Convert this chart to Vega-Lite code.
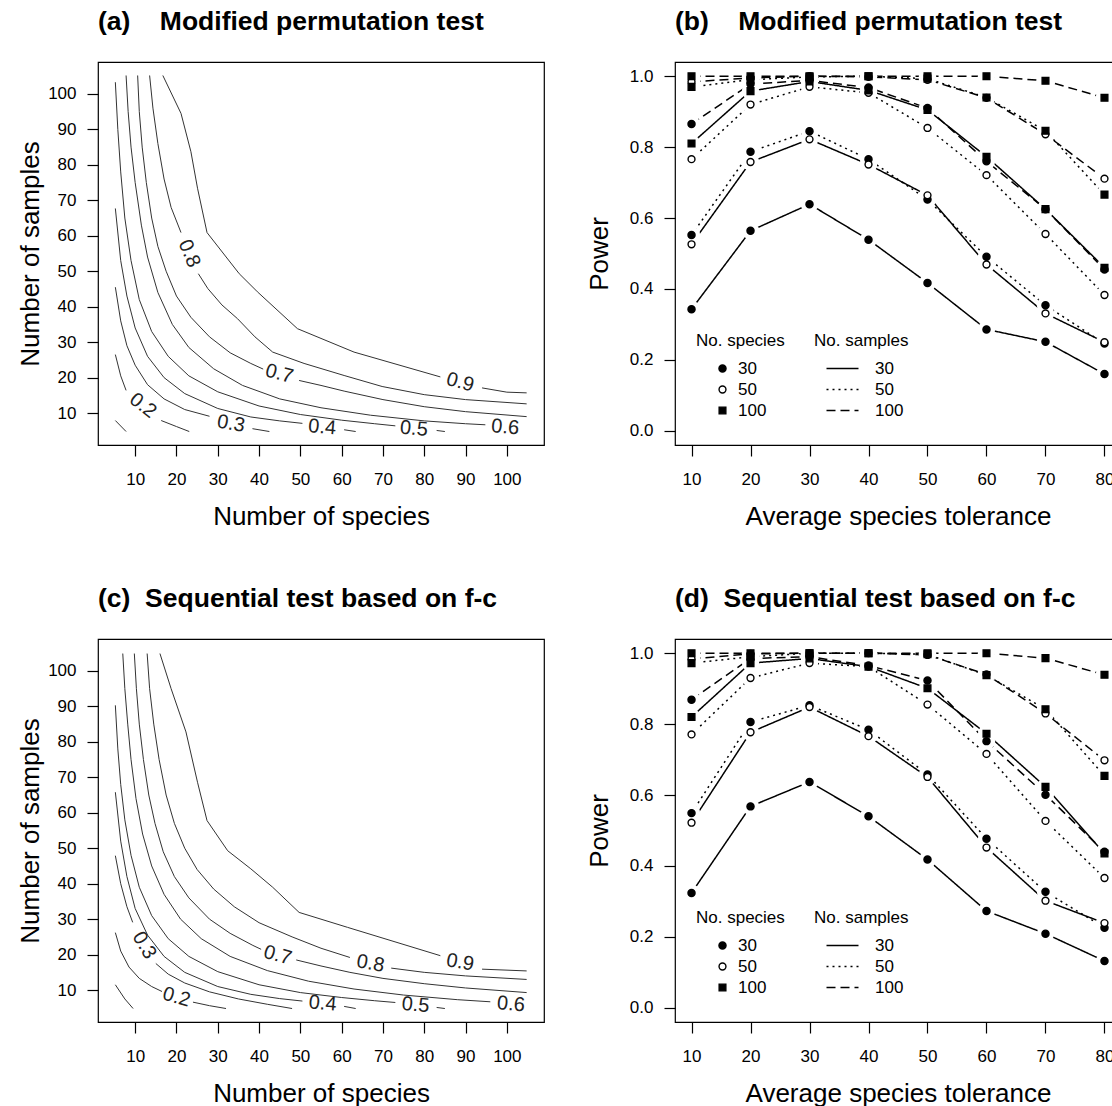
{
"$schema": "https://vega.github.io/schema/vega-lite/v6.json",
"padding": {"left": 16, "top": 7, "right": 0, "bottom": 0},
"config": {
  "font": "Liberation Sans",
  "view": {"stroke": "black", "strokeWidth": 1.2},
  "axis": {"domain": false, "grid": false, "tickColor": "black", "tickWidth": 1.2, "tickSize": 11, "labelFont": "Liberation Sans", "labelFontSize": 17, "labelColor": "black", "labelFlush": false, "labelOverlap": false, "titleFont": "Liberation Sans", "titleFontSize": 26, "titleFontWeight": "normal", "titleColor": "black"},
  "axisX": {"labelPadding": 15, "titleY": 79, "titleBaseline": "alphabetic"},
  "axisY": {"labelPadding": 11, "titleX": -68, "titleBaseline": "middle"},
  "title": {"anchor": "start", "frame": "group", "fontSize": 26.5, "fontWeight": "bold", "font": "Liberation Sans", "color": "black", "offset": 27, "baseline": "alphabetic"},
  "text": {"font": "Liberation Sans", "fontSize": 20, "color": "#222", "align": "center", "baseline": "middle"},
  "legend": {"orient": "none", "padding": 0, "titleFont": "Liberation Sans", "titleFontSize": 17, "titleFontWeight": "normal", "titleColor": "black", "labelFont": "Liberation Sans", "labelFontSize": 17, "labelColor": "black", "rowPadding": 3, "titlePadding": 10}
},
"datasets": {
  "contA": [
    {"seg":"0.1","species":5.2,"samples":7.9},{"seg":"0.1","species":7.8,"samples":4.8},
    {"seg":"0.2a","species":5.2,"samples":26.5},{"seg":"0.2a","species":6.5,"samples":20.5},{"seg":"0.2a","species":7.8,"samples":16.4},
    {"seg":"0.2b","species":16.3,"samples":7.9},{"seg":"0.2b","species":20,"samples":6.2},{"seg":"0.2b","species":23.1,"samples":4.8},
    {"seg":"0.3a","species":5.2,"samples":45.5},{"seg":"0.3a","species":6.5,"samples":36},{"seg":"0.3a","species":8,"samples":29},{"seg":"0.3a","species":10,"samples":23.5},{"seg":"0.3a","species":13,"samples":18},{"seg":"0.3a","species":17,"samples":14},{"seg":"0.3a","species":22,"samples":11},{"seg":"0.3a","species":28,"samples":9.1},
    {"seg":"0.3b","species":38.4,"samples":5.6},{"seg":"0.3b","species":42.5,"samples":4.8},
    {"seg":"0.4a","species":5.2,"samples":67.7},{"seg":"0.4a","species":6.5,"samples":53},{"seg":"0.4a","species":8,"samples":43},{"seg":"0.4a","species":10,"samples":34},{"seg":"0.4a","species":13,"samples":26},{"seg":"0.4a","species":17,"samples":20},{"seg":"0.4a","species":22,"samples":15.5},{"seg":"0.4a","species":30,"samples":11.3},{"seg":"0.4a","species":38,"samples":8.9},{"seg":"0.4a","species":45,"samples":7.8},{"seg":"0.4a","species":50.5,"samples":7.1},
    {"seg":"0.4b","species":60.6,"samples":5.3},{"seg":"0.4b","species":63.4,"samples":4.8},
    {"seg":"0.5a","species":5.2,"samples":103.3},{"seg":"0.5a","species":5.8,"samples":90},{"seg":"0.5a","species":6.5,"samples":78},{"seg":"0.5a","species":7.5,"samples":65},{"seg":"0.5a","species":9,"samples":53},{"seg":"0.5a","species":11,"samples":42},{"seg":"0.5a","species":14,"samples":33},{"seg":"0.5a","species":18,"samples":26},{"seg":"0.5a","species":23,"samples":20.5},{"seg":"0.5a","species":30,"samples":16},{"seg":"0.5a","species":40,"samples":12},{"seg":"0.5a","species":50,"samples":9.6},{"seg":"0.5a","species":60,"samples":8},{"seg":"0.5a","species":68,"samples":7},{"seg":"0.5a","species":73,"samples":6.4},
    {"seg":"0.5b","species":83,"samples":5.1},{"seg":"0.5b","species":85,"samples":4.8},
    {"seg":"0.6a","species":7.8,"samples":105.2},{"seg":"0.6a","species":8.3,"samples":95},{"seg":"0.6a","species":9,"samples":85},{"seg":"0.6a","species":10,"samples":75},{"seg":"0.6a","species":11.5,"samples":63},{"seg":"0.6a","species":13,"samples":54},{"seg":"0.6a","species":15.5,"samples":44},{"seg":"0.6a","species":19,"samples":35},{"seg":"0.6a","species":23,"samples":28.5},{"seg":"0.6a","species":29,"samples":22.5},{"seg":"0.6a","species":36,"samples":17.8},{"seg":"0.6a","species":45,"samples":14},{"seg":"0.6a","species":55,"samples":11.5},{"seg":"0.6a","species":67,"samples":9.4},{"seg":"0.6a","species":80,"samples":7.8},{"seg":"0.6a","species":90,"samples":7.0},{"seg":"0.6a","species":94.8,"samples":6.7},
    {"seg":"0.7a","species":10.6,"samples":105.2},{"seg":"0.7a","species":11,"samples":95},{"seg":"0.7a","species":11.7,"samples":85},{"seg":"0.7a","species":12.7,"samples":75},{"seg":"0.7a","species":14,"samples":65},{"seg":"0.7a","species":15.5,"samples":57},{"seg":"0.7a","species":17.5,"samples":50},{"seg":"0.7a","species":20,"samples":43},{"seg":"0.7a","species":23.5,"samples":37},{"seg":"0.7a","species":28,"samples":31.5},{"seg":"0.7a","species":33,"samples":27},{"seg":"0.7a","species":38,"samples":24},{"seg":"0.7a","species":41,"samples":22.4},
    {"seg":"0.7b","species":49.7,"samples":19.2},{"seg":"0.7b","species":55,"samples":17.8},{"seg":"0.7b","species":60.6,"samples":16.2},{"seg":"0.7b","species":70,"samples":13.8},{"seg":"0.7b","species":80,"samples":11.8},{"seg":"0.7b","species":90,"samples":10.4},{"seg":"0.7b","species":104.8,"samples":9.0},
    {"seg":"0.8a","species":13.5,"samples":105.2},{"seg":"0.8a","species":14.3,"samples":96},{"seg":"0.8a","species":15.5,"samples":86},{"seg":"0.8a","species":17,"samples":76},{"seg":"0.8a","species":18.7,"samples":68},{"seg":"0.8a","species":21.1,"samples":60.9},
    {"seg":"0.8b","species":25.3,"samples":49.3},{"seg":"0.8b","species":27.6,"samples":45.1},{"seg":"0.8b","species":31,"samples":40.5},{"seg":"0.8b","species":34.8,"samples":36.6},{"seg":"0.8b","species":39,"samples":31.5},{"seg":"0.8b","species":43.3,"samples":27.2},{"seg":"0.8b","species":50.9,"samples":24},{"seg":"0.8b","species":60.6,"samples":20.6},{"seg":"0.8b","species":69.8,"samples":17.5},{"seg":"0.8b","species":80,"samples":15.2},{"seg":"0.8b","species":90,"samples":13.8},{"seg":"0.8b","species":104.8,"samples":12.6},
    {"seg":"0.9a","species":16.7,"samples":105.2},{"seg":"0.9a","species":21.1,"samples":94.5},{"seg":"0.9a","species":23.5,"samples":83.7},{"seg":"0.9a","species":25.1,"samples":73.4},{"seg":"0.9a","species":27.4,"samples":60.9},{"seg":"0.9a","species":35.2,"samples":49.3},{"seg":"0.9a","species":39.6,"samples":44.2},{"seg":"0.9a","species":49.3,"samples":33.8},{"seg":"0.9a","species":63,"samples":27.2},{"seg":"0.9a","species":83.9,"samples":20.2},
    {"seg":"0.9b","species":94,"samples":17.1},{"seg":"0.9b","species":100,"samples":15.9},{"seg":"0.9b","species":104.8,"samples":15.7}
  ],
  "labA": [
    {"lab":"0.2","species":11.9,"samples":12.1},{"lab":"0.3","species":33.2,"samples":7.0},{"lab":"0.4","species":55.3,"samples":6.0},{"lab":"0.5","species":77.5,"samples":5.6},{"lab":"0.6","species":99.6,"samples":6.0},{"lab":"0.7","species":44.9,"samples":21.1},{"lab":"0.8","species":23.1,"samples":55.0},{"lab":"0.9","species":88.7,"samples":18.7}
  ],
  "contC": [
    {"seg":"0.1","species":5.2,"samples":11.5},{"seg":"0.1","species":7.5,"samples":7.5},{"seg":"0.1","species":9.5,"samples":4.8},
    {"seg":"0.2a","species":5.2,"samples":26.2},{"seg":"0.2a","species":6.5,"samples":21},{"seg":"0.2a","species":8.5,"samples":16.5},{"seg":"0.2a","species":11,"samples":13.3},{"seg":"0.2a","species":14,"samples":11},{"seg":"0.2a","species":16.5,"samples":9.6},
    {"seg":"0.2b","species":24,"samples":6.6},{"seg":"0.2b","species":28,"samples":5.6},{"seg":"0.2b","species":32,"samples":4.8},
    {"seg":"0.3a","species":5.2,"samples":47.9},{"seg":"0.3a","species":6.5,"samples":40},{"seg":"0.3a","species":8,"samples":33.5},{"seg":"0.3a","species":9.4,"samples":29.1},
    {"seg":"0.3b","species":15,"samples":17.5},{"seg":"0.3b","species":18,"samples":14.5},{"seg":"0.3b","species":22,"samples":12},{"seg":"0.3b","species":28,"samples":9.5},{"seg":"0.3b","species":35,"samples":7.5},{"seg":"0.3b","species":42,"samples":6},{"seg":"0.3b","species":48,"samples":4.8},
    {"seg":"0.4a","species":5.2,"samples":65.8},{"seg":"0.4a","species":6.5,"samples":52},{"seg":"0.4a","species":8,"samples":42},{"seg":"0.4a","species":10,"samples":33},{"seg":"0.4a","species":13,"samples":25.5},{"seg":"0.4a","species":17,"samples":19.5},{"seg":"0.4a","species":22,"samples":15},{"seg":"0.4a","species":30,"samples":11},{"seg":"0.4a","species":38,"samples":8.8},{"seg":"0.4a","species":45,"samples":7.6},{"seg":"0.4a","species":50.5,"samples":6.9},
    {"seg":"0.4b","species":60.6,"samples":5.4},{"seg":"0.4b","species":63.4,"samples":4.8},
    {"seg":"0.5a","species":5.2,"samples":90.3},{"seg":"0.5a","species":5.8,"samples":78},{"seg":"0.5a","species":6.5,"samples":68},{"seg":"0.5a","species":7.5,"samples":58},{"seg":"0.5a","species":9,"samples":48},{"seg":"0.5a","species":11,"samples":39},{"seg":"0.5a","species":14,"samples":31},{"seg":"0.5a","species":18,"samples":24.5},{"seg":"0.5a","species":23,"samples":19.5},{"seg":"0.5a","species":30,"samples":15.2},{"seg":"0.5a","species":40,"samples":11.5},{"seg":"0.5a","species":50,"samples":9.3},{"seg":"0.5a","species":60,"samples":7.9},{"seg":"0.5a","species":68,"samples":7.0},{"seg":"0.5a","species":73,"samples":6.5},
    {"seg":"0.5b","species":83,"samples":5.1},{"seg":"0.5b","species":85,"samples":4.8},
    {"seg":"0.6a","species":7.0,"samples":104.9},{"seg":"0.6a","species":7.5,"samples":95},{"seg":"0.6a","species":8.2,"samples":85},{"seg":"0.6a","species":9,"samples":75},{"seg":"0.6a","species":10.2,"samples":64},{"seg":"0.6a","species":11.8,"samples":54},{"seg":"0.6a","species":14,"samples":45},{"seg":"0.6a","species":17,"samples":37},{"seg":"0.6a","species":21,"samples":30},{"seg":"0.6a","species":26,"samples":24.5},{"seg":"0.6a","species":33,"samples":19.5},{"seg":"0.6a","species":42,"samples":15.5},{"seg":"0.6a","species":52,"samples":12.5},{"seg":"0.6a","species":63,"samples":10.3},{"seg":"0.6a","species":75,"samples":8.6},{"seg":"0.6a","species":88,"samples":7.3},{"seg":"0.6a","species":96,"samples":6.7},
    {"seg":"0.7a","species":9.8,"samples":104.9},{"seg":"0.7a","species":10.3,"samples":95},{"seg":"0.7a","species":11,"samples":85},{"seg":"0.7a","species":12,"samples":75},{"seg":"0.7a","species":13.3,"samples":65},{"seg":"0.7a","species":14.8,"samples":57},{"seg":"0.7a","species":16.8,"samples":49},{"seg":"0.7a","species":19.5,"samples":42},{"seg":"0.7a","species":23,"samples":36},{"seg":"0.7a","species":28,"samples":30},{"seg":"0.7a","species":33,"samples":26},{"seg":"0.7a","species":38.5,"samples":22.6},{"seg":"0.7a","species":40.5,"samples":21.5},
    {"seg":"0.7b","species":49,"samples":18.5},{"seg":"0.7b","species":55,"samples":16.8},{"seg":"0.7b","species":62,"samples":15},{"seg":"0.7b","species":70,"samples":13.3},{"seg":"0.7b","species":80,"samples":11.8},{"seg":"0.7b","species":90,"samples":10.6},{"seg":"0.7b","species":104.8,"samples":9.3},
    {"seg":"0.8a","species":12.9,"samples":104.9},{"seg":"0.8a","species":13.5,"samples":95},{"seg":"0.8a","species":14.5,"samples":85},{"seg":"0.8a","species":15.8,"samples":75},{"seg":"0.8a","species":17.5,"samples":65},{"seg":"0.8a","species":19.5,"samples":57},{"seg":"0.8a","species":22,"samples":50},{"seg":"0.8a","species":25,"samples":44},{"seg":"0.8a","species":29,"samples":38.5},{"seg":"0.8a","species":34,"samples":33.5},{"seg":"0.8a","species":40,"samples":29},{"seg":"0.8a","species":48,"samples":25},{"seg":"0.8a","species":55,"samples":21.8},{"seg":"0.8a","species":62,"samples":19.2},
    {"seg":"0.8b","species":72,"samples":16.2},{"seg":"0.8b","species":80,"samples":15},{"seg":"0.8b","species":90,"samples":14},{"seg":"0.8b","species":104.8,"samples":13},
    {"seg":"0.9a","species":16.0,"samples":104.9},{"seg":"0.9a","species":18.7,"samples":95.0},{"seg":"0.9a","species":22.3,"samples":82.8},{"seg":"0.9a","species":25.1,"samples":68.6},{"seg":"0.9a","species":27.4,"samples":57.8},{"seg":"0.9a","species":32.4,"samples":49.3},{"seg":"0.9a","species":38.0,"samples":44.2},{"seg":"0.9a","species":43.3,"samples":39.0},{"seg":"0.9a","species":49.7,"samples":31.9},{"seg":"0.9a","species":61.4,"samples":27.7},{"seg":"0.9a","species":83.9,"samples":19.7},
    {"seg":"0.9b","species":94.0,"samples":15.9},{"seg":"0.9b","species":104.8,"samples":15.4}
  ],
  "labC": [
    {"lab":"0.2","species":20,"samples":8},{"lab":"0.3","species":12.2,"samples":22.6},{"lab":"0.4","species":55.4,"samples":6.2},{"lab":"0.5","species":77.9,"samples":5.8},{"lab":"0.6","species":101,"samples":6.0},{"lab":"0.7","species":44.5,"samples":19.8},{"lab":"0.8","species":67,"samples":17.5},{"lab":"0.9","species":88.7,"samples":17.8}
  ],
  "powB": [
    {"spec":30,"samp":30,"tol":10,"power":0.343},{"spec":30,"samp":30,"tol":20,"power":0.564},{"spec":30,"samp":30,"tol":30,"power":0.639},{"spec":30,"samp":30,"tol":40,"power":0.539},{"spec":30,"samp":30,"tol":50,"power":0.417},{"spec":30,"samp":30,"tol":60,"power":0.286},{"spec":30,"samp":30,"tol":70,"power":0.251},{"spec":30,"samp":30,"tol":80,"power":0.160},
    {"spec":30,"samp":50,"tol":10,"power":0.552},{"spec":30,"samp":50,"tol":20,"power":0.787},{"spec":30,"samp":50,"tol":30,"power":0.845},{"spec":30,"samp":50,"tol":40,"power":0.766},{"spec":30,"samp":50,"tol":50,"power":0.652},{"spec":30,"samp":50,"tol":60,"power":0.491},{"spec":30,"samp":50,"tol":70,"power":0.354},{"spec":30,"samp":50,"tol":80,"power":0.246},
    {"spec":50,"samp":30,"tol":10,"power":0.526},{"spec":50,"samp":30,"tol":20,"power":0.758},{"spec":50,"samp":30,"tol":30,"power":0.822},{"spec":50,"samp":30,"tol":40,"power":0.751},{"spec":50,"samp":30,"tol":50,"power":0.664},{"spec":50,"samp":30,"tol":60,"power":0.469},{"spec":50,"samp":30,"tol":70,"power":0.331},{"spec":50,"samp":30,"tol":80,"power":0.250},
    {"spec":50,"samp":50,"tol":10,"power":0.766},{"spec":50,"samp":50,"tol":20,"power":0.920},{"spec":50,"samp":50,"tol":30,"power":0.970},{"spec":50,"samp":50,"tol":40,"power":0.953},{"spec":50,"samp":50,"tol":50,"power":0.854},{"spec":50,"samp":50,"tol":60,"power":0.721},{"spec":50,"samp":50,"tol":70,"power":0.555},{"spec":50,"samp":50,"tol":80,"power":0.383},
    {"spec":30,"samp":100,"tol":10,"power":0.865},{"spec":30,"samp":100,"tol":20,"power":0.978},{"spec":30,"samp":100,"tol":30,"power":0.988},{"spec":30,"samp":100,"tol":40,"power":0.968},{"spec":30,"samp":100,"tol":50,"power":0.910},{"spec":30,"samp":100,"tol":60,"power":0.760},{"spec":30,"samp":100,"tol":70,"power":0.625},{"spec":30,"samp":100,"tol":80,"power":0.455},
    {"spec":100,"samp":30,"tol":10,"power":0.810},{"spec":100,"samp":30,"tol":20,"power":0.958},{"spec":100,"samp":30,"tol":30,"power":0.985},{"spec":100,"samp":30,"tol":40,"power":0.960},{"spec":100,"samp":30,"tol":50,"power":0.905},{"spec":100,"samp":30,"tol":60,"power":0.773},{"spec":100,"samp":30,"tol":70,"power":0.625},{"spec":100,"samp":30,"tol":80,"power":0.460},
    {"spec":50,"samp":100,"tol":10,"power":0.984},{"spec":50,"samp":100,"tol":20,"power":0.995},{"spec":50,"samp":100,"tol":30,"power":1.000},{"spec":50,"samp":100,"tol":40,"power":0.998},{"spec":50,"samp":100,"tol":50,"power":0.990},{"spec":50,"samp":100,"tol":60,"power":0.939},{"spec":50,"samp":100,"tol":70,"power":0.836},{"spec":50,"samp":100,"tol":80,"power":0.711},
    {"spec":100,"samp":50,"tol":10,"power":0.970},{"spec":100,"samp":50,"tol":20,"power":0.990},{"spec":100,"samp":50,"tol":30,"power":0.998},{"spec":100,"samp":50,"tol":40,"power":1.000},{"spec":100,"samp":50,"tol":50,"power":0.993},{"spec":100,"samp":50,"tol":60,"power":0.940},{"spec":100,"samp":50,"tol":70,"power":0.846},{"spec":100,"samp":50,"tol":80,"power":0.666},
    {"spec":100,"samp":100,"tol":10,"power":1.000},{"spec":100,"samp":100,"tol":20,"power":1.000},{"spec":100,"samp":100,"tol":30,"power":1.000},{"spec":100,"samp":100,"tol":40,"power":1.000},{"spec":100,"samp":100,"tol":50,"power":1.000},{"spec":100,"samp":100,"tol":60,"power":1.000},{"spec":100,"samp":100,"tol":70,"power":0.987},{"spec":100,"samp":100,"tol":80,"power":0.939}
  ],
  "powD": [
    {"spec":30,"samp":30,"tol":10,"power":0.324},{"spec":30,"samp":30,"tol":20,"power":0.568},{"spec":30,"samp":30,"tol":30,"power":0.637},{"spec":30,"samp":30,"tol":40,"power":0.540},{"spec":30,"samp":30,"tol":50,"power":0.418},{"spec":30,"samp":30,"tol":60,"power":0.273},{"spec":30,"samp":30,"tol":70,"power":0.209},{"spec":30,"samp":30,"tol":80,"power":0.132},
    {"spec":30,"samp":50,"tol":10,"power":0.549},{"spec":30,"samp":50,"tol":20,"power":0.806},{"spec":30,"samp":50,"tol":30,"power":0.853},{"spec":30,"samp":50,"tol":40,"power":0.784},{"spec":30,"samp":50,"tol":50,"power":0.658},{"spec":30,"samp":50,"tol":60,"power":0.477},{"spec":30,"samp":50,"tol":70,"power":0.327},{"spec":30,"samp":50,"tol":80,"power":0.226},
    {"spec":50,"samp":30,"tol":10,"power":0.522},{"spec":50,"samp":30,"tol":20,"power":0.777},{"spec":50,"samp":30,"tol":30,"power":0.848},{"spec":50,"samp":30,"tol":40,"power":0.766},{"spec":50,"samp":30,"tol":50,"power":0.651},{"spec":50,"samp":30,"tol":60,"power":0.452},{"spec":50,"samp":30,"tol":70,"power":0.302},{"spec":50,"samp":30,"tol":80,"power":0.239},
    {"spec":50,"samp":50,"tol":10,"power":0.771},{"spec":50,"samp":50,"tol":20,"power":0.930},{"spec":50,"samp":50,"tol":30,"power":0.972},{"spec":50,"samp":50,"tol":40,"power":0.962},{"spec":50,"samp":50,"tol":50,"power":0.855},{"spec":50,"samp":50,"tol":60,"power":0.716},{"spec":50,"samp":50,"tol":70,"power":0.527},{"spec":50,"samp":50,"tol":80,"power":0.366},
    {"spec":30,"samp":100,"tol":10,"power":0.869},{"spec":30,"samp":100,"tol":20,"power":0.985},{"spec":30,"samp":100,"tol":30,"power":0.990},{"spec":30,"samp":100,"tol":40,"power":0.965},{"spec":30,"samp":100,"tol":50,"power":0.923},{"spec":30,"samp":100,"tol":60,"power":0.752},{"spec":30,"samp":100,"tol":70,"power":0.601},{"spec":30,"samp":100,"tol":80,"power":0.440},
    {"spec":100,"samp":30,"tol":10,"power":0.820},{"spec":100,"samp":30,"tol":20,"power":0.972},{"spec":100,"samp":30,"tol":30,"power":0.985},{"spec":100,"samp":30,"tol":40,"power":0.962},{"spec":100,"samp":30,"tol":50,"power":0.901},{"spec":100,"samp":30,"tol":60,"power":0.773},{"spec":100,"samp":30,"tol":70,"power":0.623},{"spec":100,"samp":30,"tol":80,"power":0.435},
    {"spec":50,"samp":100,"tol":10,"power":0.984},{"spec":50,"samp":100,"tol":20,"power":0.998},{"spec":50,"samp":100,"tol":30,"power":1.000},{"spec":50,"samp":100,"tol":40,"power":1.000},{"spec":50,"samp":100,"tol":50,"power":0.995},{"spec":50,"samp":100,"tol":60,"power":0.940},{"spec":50,"samp":100,"tol":70,"power":0.830},{"spec":50,"samp":100,"tol":80,"power":0.698},
    {"spec":100,"samp":50,"tol":10,"power":0.972},{"spec":100,"samp":50,"tol":20,"power":0.990},{"spec":100,"samp":50,"tol":30,"power":1.000},{"spec":100,"samp":50,"tol":40,"power":1.000},{"spec":100,"samp":50,"tol":50,"power":0.997},{"spec":100,"samp":50,"tol":60,"power":0.938},{"spec":100,"samp":50,"tol":70,"power":0.842},{"spec":100,"samp":50,"tol":80,"power":0.654},
    {"spec":100,"samp":100,"tol":10,"power":1.000},{"spec":100,"samp":100,"tol":20,"power":1.000},{"spec":100,"samp":100,"tol":30,"power":1.000},{"spec":100,"samp":100,"tol":40,"power":1.000},{"spec":100,"samp":100,"tol":50,"power":1.000},{"spec":100,"samp":100,"tol":60,"power":1.000},{"spec":100,"samp":100,"tol":70,"power":0.986},{"spec":100,"samp":100,"tol":80,"power":0.939}
  ]
},
"columns": 2,
"spacing": {"row": 194, "column": 131},
"bounds": "flush",
"resolve": {"scale": {"x": "independent", "y": "independent", "shape": "independent", "fill": "independent", "stroke": "independent", "size": "independent", "strokeDash": "independent"}},
"concat": [
  {
    "title": {"text": "(a)\u00a0\u00a0\u00a0\u00a0Modified permutation test"},
    "width": 446, "height": 383,
    "encoding": {
      "x": {"field": "species", "type": "quantitative", "scale": {"domain": [1, 109], "nice": false, "zero": false}, "axis": {"values": [10,20,30,40,50,60,70,80,90,100], "title": "Number of species"}},
      "y": {"field": "samples", "type": "quantitative", "scale": {"domain": [1, 109], "nice": false, "zero": false}, "axis": {"values": [10,20,30,40,50,60,70,80,90,100], "title": "Number of samples"}}
    },
    "layer": [
      {"data": {"name": "contA"}, "mark": {"type": "line", "stroke": "#333", "strokeWidth": 1}, "encoding": {"detail": {"field": "seg"}}},
      {"data": {"name": "labA"}, "transform": [{"filter": "datum.lab == '0.8'"}], "mark": {"type": "text", "angle": 67}, "encoding": {"text": {"field": "lab"}}},
      {"data": {"name": "labA"}, "transform": [{"filter": "datum.lab == '0.2'"}], "mark": {"type": "text", "angle": 38}, "encoding": {"text": {"field": "lab"}}},
      {"data": {"name": "labA"}, "transform": [{"filter": "datum.lab == '0.7' || datum.lab == '0.9'"}], "mark": {"type": "text", "angle": 15}, "encoding": {"text": {"field": "lab"}}},
      {"data": {"name": "labA"}, "transform": [{"filter": "datum.lab == '0.3'"}], "mark": {"type": "text", "angle": 10}, "encoding": {"text": {"field": "lab"}}},
      {"data": {"name": "labA"}, "transform": [{"filter": "datum.lab == '0.4' || datum.lab == '0.5' || datum.lab == '0.6'"}], "mark": {"type": "text", "angle": 5}, "encoding": {"text": {"field": "lab"}}}
    ]
  },
  {
    "title": {"text": "(b)\u00a0\u00a0\u00a0\u00a0Modified permutation test"},
    "width": 446, "height": 383,
    "data": {"name": "powB"},
    "encoding": {
      "x": {"field": "tol", "type": "quantitative", "scale": {"domain": [7.2, 82.8], "nice": false, "zero": false}, "axis": {"values": [10,20,30,40,50,60,70,80], "title": "Average species tolerance"}},
      "y": {"field": "power", "type": "quantitative", "scale": {"domain": [-0.04, 1.04], "nice": false, "zero": false}, "axis": {"values": [0,0.2,0.4,0.6,0.8,1], "format": ".1f", "title": "Power", "titleX": -76}}
    },
    "layer": [
      {"mark": {"type": "line", "color": "black", "strokeWidth": 1.5}, "encoding": {"strokeDash": {"field": "samp", "type": "ordinal", "scale": {"range": [[1,0],[2,4],[9,5]]}, "legend": {"title": "No. samples", "legendX": 139, "legendY": 271, "symbolType": "M-4,0H4", "symbolSize": 64, "symbolStrokeWidth": 1.5, "symbolStrokeColor": "black", "symbolFillColor": "transparent", "symbolOffset": 20, "labelOffset": 24}}, "detail": {"field": "spec"}}},
      {"mark": {"type": "circle", "color": "white", "opacity": 1, "size": 300}},
      {"mark": {"type": "point", "filled": true, "strokeWidth": 1.4, "opacity": 1},
       "encoding": {
         "shape": {"field": "spec", "type": "ordinal", "scale": {"range": ["circle","circle","square"]}, "legend": {"title": "No. species", "legendX": 21, "legendY": 271, "symbolOffset": 18, "labelOffset": 7, "symbolStrokeWidth": 1.4}},
         "fill": {"field": "spec", "type": "ordinal", "scale": {"range": ["black","white","black"]}, "legend": {"title": "No. species", "legendX": 21, "legendY": 271, "symbolOffset": 18, "labelOffset": 7, "symbolStrokeWidth": 1.4}},
         "stroke": {"field": "spec", "type": "ordinal", "scale": {"range": ["black","black","black"]}, "legend": {"title": "No. species", "legendX": 21, "legendY": 271, "symbolOffset": 18, "labelOffset": 7, "symbolStrokeWidth": 1.4}},
         "size": {"field": "spec", "type": "ordinal", "scale": {"range": [50, 45, 30]}, "legend": {"title": "No. species", "legendX": 21, "legendY": 271, "symbolOffset": 18, "labelOffset": 7, "symbolStrokeWidth": 1.4}}
       }}
    ]
  },
  {
    "title": {"text": "(c)\u00a0\u00a0Sequential test based on f-c"},
    "width": 446, "height": 383,
    "encoding": {
      "x": {"field": "species", "type": "quantitative", "scale": {"domain": [1, 109], "nice": false, "zero": false}, "axis": {"values": [10,20,30,40,50,60,70,80,90,100], "title": "Number of species"}},
      "y": {"field": "samples", "type": "quantitative", "scale": {"domain": [1, 109], "nice": false, "zero": false}, "axis": {"values": [10,20,30,40,50,60,70,80,90,100], "title": "Number of samples"}}
    },
    "layer": [
      {"data": {"name": "contC"}, "mark": {"type": "line", "stroke": "#333", "strokeWidth": 1}, "encoding": {"detail": {"field": "seg"}}},
      {"data": {"name": "labC"}, "transform": [{"filter": "datum.lab == '0.3'"}], "mark": {"type": "text", "angle": 60}, "encoding": {"text": {"field": "lab"}}},
      {"data": {"name": "labC"}, "transform": [{"filter": "datum.lab == '0.2' || datum.lab == '0.7'"}], "mark": {"type": "text", "angle": 16}, "encoding": {"text": {"field": "lab"}}},
      {"data": {"name": "labC"}, "transform": [{"filter": "datum.lab == '0.8' || datum.lab == '0.9'"}], "mark": {"type": "text", "angle": 10}, "encoding": {"text": {"field": "lab"}}},
      {"data": {"name": "labC"}, "transform": [{"filter": "datum.lab == '0.4' || datum.lab == '0.5' || datum.lab == '0.6'"}], "mark": {"type": "text", "angle": 5}, "encoding": {"text": {"field": "lab"}}}
    ]
  },
  {
    "title": {"text": "(d)\u00a0\u00a0Sequential test based on f-c"},
    "width": 446, "height": 383,
    "data": {"name": "powD"},
    "encoding": {
      "x": {"field": "tol", "type": "quantitative", "scale": {"domain": [7.2, 82.8], "nice": false, "zero": false}, "axis": {"values": [10,20,30,40,50,60,70,80], "title": "Average species tolerance"}},
      "y": {"field": "power", "type": "quantitative", "scale": {"domain": [-0.04, 1.04], "nice": false, "zero": false}, "axis": {"values": [0,0.2,0.4,0.6,0.8,1], "format": ".1f", "title": "Power", "titleX": -76}}
    },
    "layer": [
      {"mark": {"type": "line", "color": "black", "strokeWidth": 1.5}, "encoding": {"strokeDash": {"field": "samp", "type": "ordinal", "scale": {"range": [[1,0],[2,4],[9,5]]}, "legend": {"title": "No. samples", "legendX": 139, "legendY": 271, "symbolType": "M-4,0H4", "symbolSize": 64, "symbolStrokeWidth": 1.5, "symbolStrokeColor": "black", "symbolFillColor": "transparent", "symbolOffset": 20, "labelOffset": 24}}, "detail": {"field": "spec"}}},
      {"mark": {"type": "circle", "color": "white", "opacity": 1, "size": 300}},
      {"mark": {"type": "point", "filled": true, "strokeWidth": 1.4, "opacity": 1},
       "encoding": {
         "shape": {"field": "spec", "type": "ordinal", "scale": {"range": ["circle","circle","square"]}, "legend": {"title": "No. species", "legendX": 21, "legendY": 271, "symbolOffset": 18, "labelOffset": 7, "symbolStrokeWidth": 1.4}},
         "fill": {"field": "spec", "type": "ordinal", "scale": {"range": ["black","white","black"]}, "legend": {"title": "No. species", "legendX": 21, "legendY": 271, "symbolOffset": 18, "labelOffset": 7, "symbolStrokeWidth": 1.4}},
         "stroke": {"field": "spec", "type": "ordinal", "scale": {"range": ["black","black","black"]}, "legend": {"title": "No. species", "legendX": 21, "legendY": 271, "symbolOffset": 18, "labelOffset": 7, "symbolStrokeWidth": 1.4}},
         "size": {"field": "spec", "type": "ordinal", "scale": {"range": [50, 45, 30]}, "legend": {"title": "No. species", "legendX": 21, "legendY": 271, "symbolOffset": 18, "labelOffset": 7, "symbolStrokeWidth": 1.4}}
       }}
    ]
  }
]
}
